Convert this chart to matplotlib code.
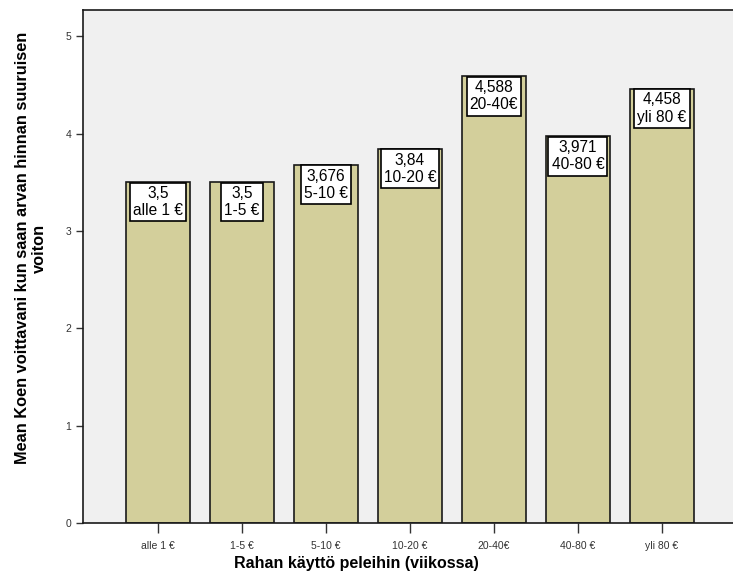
import matplotlib.pyplot as plt

plt.rcParams['font.family'] = ['Liberation Sans', 'DejaVu Sans']

# Keskiarvot ryhmittäin / Group means
categories = ['alle 1 €', '1-5 €', '5-10 €', '10-20 €', '20-40€', '40-80 €', 'yli 80 €']
means = [3.5, 3.5, 3.676, 3.84, 4.588, 3.971, 4.458]
value_labels = ['3,5', '3,5', '3,676', '3,84', '4,588', '3,971', '4,458']

fig = plt.figure(figsize=(7.33, 5.83), dpi=100)
ax = fig.add_axes([0.113, 0.103, 0.887, 0.880])
ax.set_facecolor('#f0f0f0')

x = list(range(len(categories)))
ax.bar(x, means, width=0.76, color='#d3cf9b', edgecolor='#1a1a1a', linewidth=1.2, zorder=2)

# Arvolaatikot pylväiden yläreunaan / Value boxes at the top of the bars
for xi, m, v, c in zip(x, means, value_labels, categories):
    ax.annotate(f'{v}\n{c}', xy=(xi, m), xytext=(0, -2.5), textcoords='offset points',
                ha='center', va='top', fontsize=11.2, linespacing=1.22, zorder=3,
                bbox=dict(boxstyle='square,pad=0.2', facecolor='white',
                          edgecolor='black', linewidth=1.2))

ax.set_xlim(-0.893, 6.845)
ax.set_ylim(0, 5.27)
ax.set_yticks(range(6))
ax.set_xticks(x)
ax.set_xticklabels(categories)
ax.tick_params(axis='both', labelsize=7.5, colors='#333333', length=5, width=1)
ax.tick_params(axis='x', length=7, pad=6)

for side in ['left', 'bottom', 'top']:
    ax.spines[side].set_color('#1a1a1a')
    ax.spines[side].set_linewidth(1.2)
ax.spines['right'].set_visible(False)

ax.set_xlabel('Rahan käyttö peleihin (viikossa)', fontsize=11.5, fontweight='bold')
ax.set_ylabel('Mean Koen voittavani kun saan arvan hinnan suuruisen\nvoiton',
              fontsize=11.8, fontweight='bold')
ax.xaxis.set_label_coords(0.421, -0.065)
ax.yaxis.set_label_coords(-0.055, 0.536)

plt.savefig('out.png', dpi=100)
